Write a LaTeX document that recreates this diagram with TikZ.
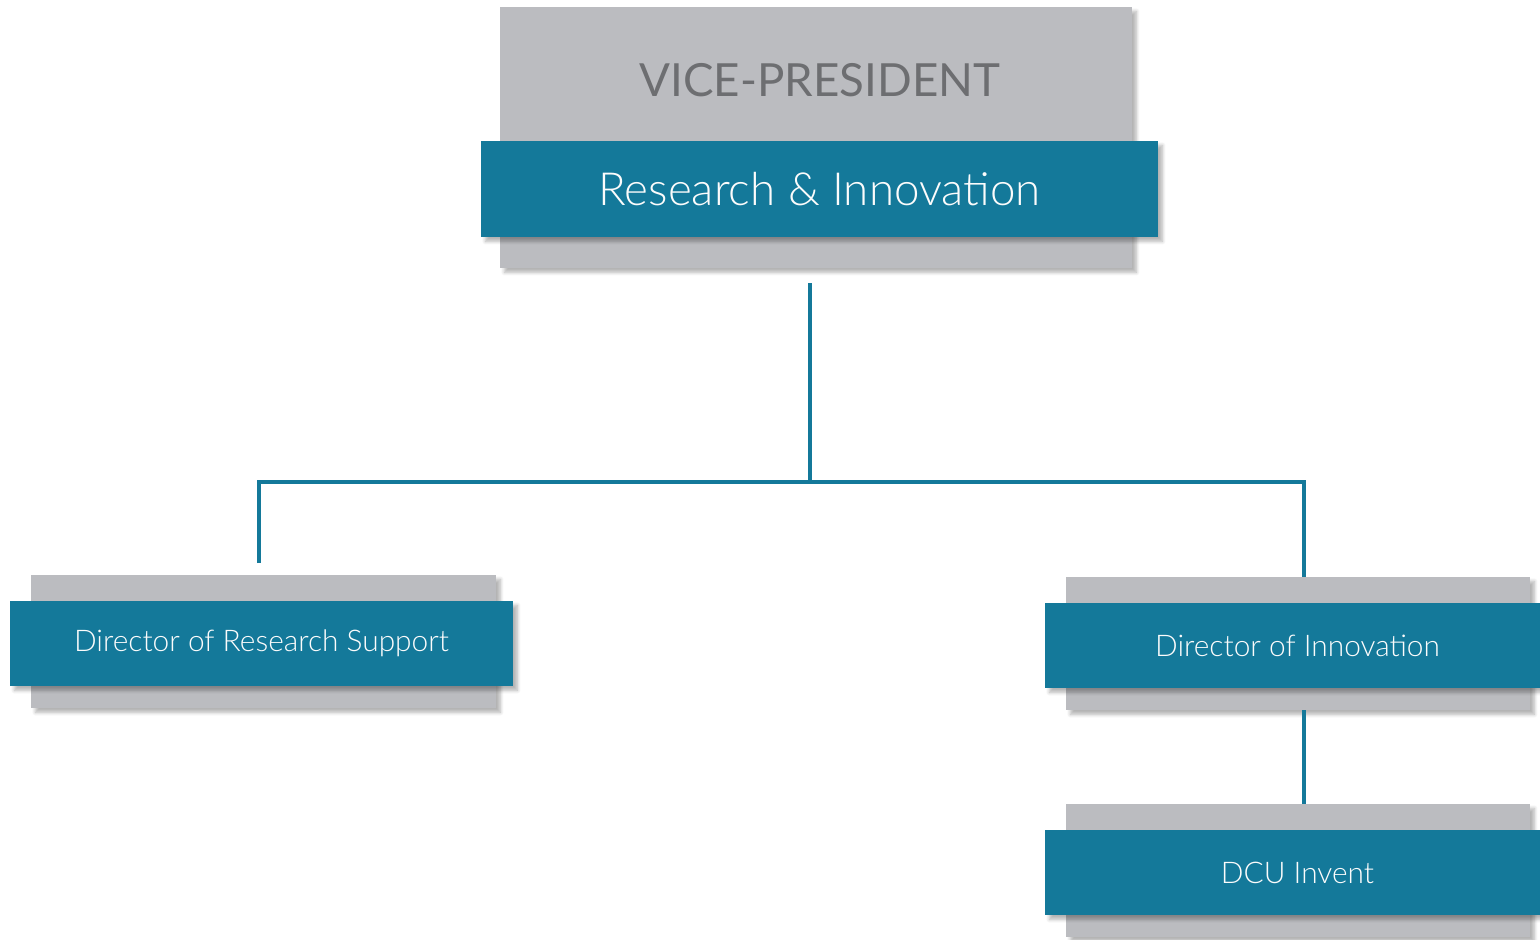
\documentclass[tikz,border=0pt]{standalone}
\usepackage{fontspec}
\setmainfont{Lato Light}
\newfontfamily\headfont{Lato}
\usetikzlibrary{shadows.blur}

\definecolor{dcublue}{HTML}{14799A}
\definecolor{cardgray}{HTML}{BBBCC0}
\definecolor{titlegray}{HTML}{6D6E71}

\tikzset{
    backcard/.style={fill=cardgray, inner sep=0pt,
        blur shadow={shadow xshift=2.5pt, shadow yshift=-2.5pt, shadow opacity=30, shadow blur steps=6}},
    frontcard/.style={fill=dcublue, text=white!95!cardgray, inner sep=0pt,
        blur shadow={shadow xshift=2.5pt, shadow yshift=-2.5pt, shadow opacity=30, shadow blur steps=6}},
    link/.style={draw=dcublue, line width=1.9pt}
}

\begin{document}
\begin{tikzpicture}[x=0.02cm, y=-0.02cm]

    % Fix the page to the reference size
    \useasboundingbox (0,0) rectangle (1540,939);

    % Top card: vice-president
    \node[backcard, minimum width=12.64cm, minimum height=5.22cm] (vpback) at (816,137.5) {};
    \node[text=titlegray, font=\headfont\fontsize{26}{32}\selectfont] (vp) at (820,80) {VICE-PRESIDENT};
    \node[frontcard, minimum width=13.54cm, minimum height=1.92cm,
        font=\fontsize{26}{32}\selectfont] (rni) at (819.5,189) {Research \& Innovation};

    % Left card: research support
    \node[backcard, minimum width=9.3cm, minimum height=2.66cm] (rsback) at (263.5,641.5) {};
    \node[frontcard, minimum width=10.06cm, minimum height=1.7cm,
        font=\fontsize{17}{22}\selectfont] (drs) at (261.5,643.5) {Director of Research Support};

    % Right card: innovation
    \node[backcard, minimum width=9.28cm, minimum height=2.66cm] (inback) at (1298,643.5) {};
    \node[frontcard, minimum width=10.1cm, minimum height=1.7cm,
        font=\fontsize{17}{22}\selectfont] (doi) at (1297.5,645.5) {Director of Innovation};

    % Bottom card: DCU Invent
    \node[backcard, minimum width=9.28cm, minimum height=2.66cm] (dcuback) at (1298,870.5) {};
    \node[frontcard, minimum width=10.1cm, minimum height=1.7cm,
        font=\fontsize{17}{22}\selectfont] (dcu) at (1297.5,872.5) {DCU Invent};

    % Connector end points
    \coordinate (stem) at (810,283);
    \coordinate (fork) at (810,482);
    \coordinate (drsin) at (259,563);
    \coordinate (doiin) at (1304,577);
    \coordinate (doiout) at (1304,710);
    \coordinate (dcuin) at (1304,804);

    % Connectors
    \draw[link] (stem) -- (fork);
    \draw[link] (drsin) |- (fork) -| (doiin);
    \draw[link] (doiout) -- (dcuin);

\end{tikzpicture}
\end{document}
